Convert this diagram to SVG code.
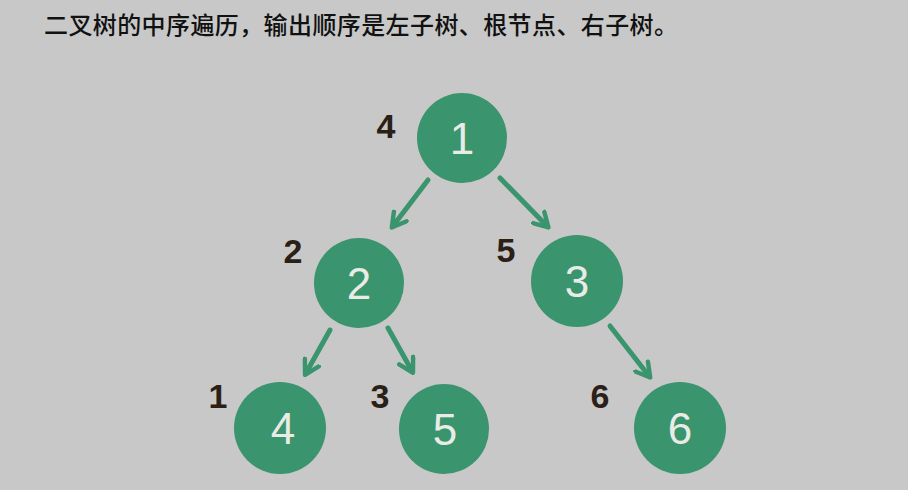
<svg xmlns="http://www.w3.org/2000/svg" width="908" height="490" viewBox="0 0 908 490">
<style>
.node{fill:#3a946d;}
.val{font-family:"Liberation Sans","DejaVu Sans",sans-serif;font-size:44px;fill:#e9ece6;text-anchor:middle;}
.ord{font-family:"Liberation Sans","DejaVu Sans",sans-serif;font-size:34px;font-weight:bold;fill:#2b2016;text-anchor:middle;}
.edge{stroke:#3a946d;stroke-width:5;stroke-linecap:round;fill:none;}
.title{font-family:"Noto Sans CJK SC",sans-serif;font-size:24px;font-weight:500;fill:#111;}
</style>
<defs>
<marker id="ah" viewBox="0 0 10 10" refX="7" refY="5" markerWidth="4" markerHeight="4" orient="auto" markerUnits="strokeWidth">
<path d="M1,1 L8,5 L1,9" fill="none" stroke="#3a946d" stroke-width="2.2" stroke-linecap="round" stroke-linejoin="round"/>
</marker>
</defs>
<rect width="908" height="490" fill="#c8c8c8"/>
<text class="title" x="44" y="34" textLength="634">二叉树的中序遍历，输出顺序是左子树、根节点、右子树。</text>
<g id="connectors">
<line class="edge" x1="428" y1="180" x2="393" y2="226" marker-end="url(#ah)"/>
<line class="edge" x1="500" y1="178" x2="547" y2="226" marker-end="url(#ah)"/>
<line class="edge" x1="330" y1="330" x2="306" y2="373" marker-end="url(#ah)"/>
<line class="edge" x1="388" y1="328" x2="412" y2="371" marker-end="url(#ah)"/>
<line class="edge" x1="610" y1="326" x2="649" y2="376" marker-end="url(#ah)"/>
</g>
<g id="node1"><circle class="node" cx="462" cy="138" r="45"/><text class="val" x="462" y="154">1</text><text class="ord" x="386" y="138">4</text></g>
<g id="node2"><circle class="node" cx="359" cy="283" r="45"/><text class="val" x="359" y="299">2</text><text class="ord" x="293" y="263">2</text></g>
<g id="node3"><circle class="node" cx="577" cy="281" r="46"/><text class="val" x="577" y="297">3</text><text class="ord" x="506" y="262">5</text></g>
<g id="node4"><circle class="node" cx="280" cy="428" r="46"/><text class="val" x="283" y="444">4</text><text class="ord" x="218" y="408">1</text></g>
<g id="node5"><circle class="node" cx="444" cy="429" r="45"/><text class="val" x="445" y="445">5</text><text class="ord" x="380" y="408">3</text></g>
<g id="node6"><circle class="node" cx="680" cy="428" r="46"/><text class="val" x="680" y="444">6</text><text class="ord" x="600" y="408">6</text></g>
</svg>
